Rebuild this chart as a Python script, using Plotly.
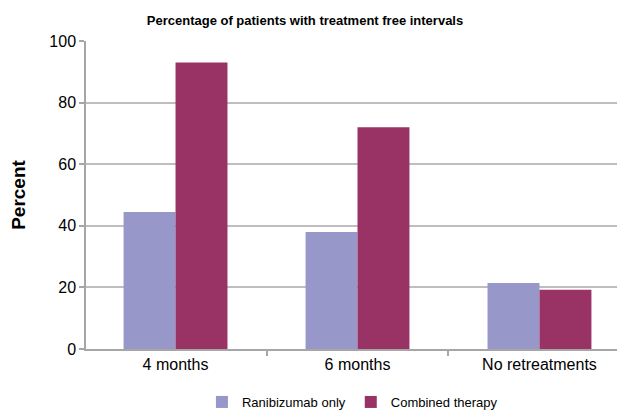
import plotly.graph_objects as go

categories = ["4 months", "6 months", "No retreatments"]
ranibizumab = [44.5, 38, 21.4]
combined = [93, 72, 19.2]
series_names = ["Ranibizumab only", "Combined therapy"]
colors = ["#9797C9", "#993366"]

# page has an 8px body margin; figure sized to fill the rest of the window
W, H = 617, 403

fig = go.Figure()
fig.add_trace(go.Bar(x=categories, y=ranibizumab, name=series_names[0],
                     marker=dict(color=colors[0], line=dict(width=0))))
fig.add_trace(go.Bar(x=categories, y=combined, name=series_names[1],
                     marker=dict(color=colors[1], line=dict(width=0))))

fig.update_layout(
    width=W, height=H,
    margin=dict(l=78, r=0, t=33, b=62, autoexpand=False),
    paper_bgcolor="white", plot_bgcolor="white",
    barmode="group", bargap=0.429, bargroupgap=0,
    font=dict(family="Liberation Sans, Arial, sans-serif", color="#000000"),
    title=dict(text="<b>Percentage of patients with treatment free intervals</b>",
               x=297/W, xanchor="center", y=1-12/H, yanchor="middle",
               font=dict(size=13, color="#000")),
    showlegend=True,
    legend=dict(orientation="h", x=305/W, xanchor="center",
                yref="container", y=9/H, yanchor="middle",
                font=dict(size=13), itemwidth=30, traceorder="normal"),
)
fig.update_xaxes(range=[-0.492, 2.47], showline=True, linecolor="#A6A6A6", linewidth=1.5,
                 ticks="outside", ticklen=5, tickcolor="#A6A6A6", tickwidth=1.5,
                 tickson="boundaries", tickfont=dict(size=16), showgrid=False,
                 automargin=False)
fig.update_yaxes(range=[0, 100], dtick=20, showline=True, linecolor="#A6A6A6", linewidth=1.5,
                 ticks="outside", ticklen=5, tickcolor="#A6A6A6", tickwidth=1.5,
                 gridcolor="#BEBEBE", gridwidth=1.5, tickfont=dict(size=16),
                 zeroline=False, automargin=False,
                 title=dict(text="<b>Percent</b>", font=dict(size=19), standoff=21))

fig.write_html("out.html")
